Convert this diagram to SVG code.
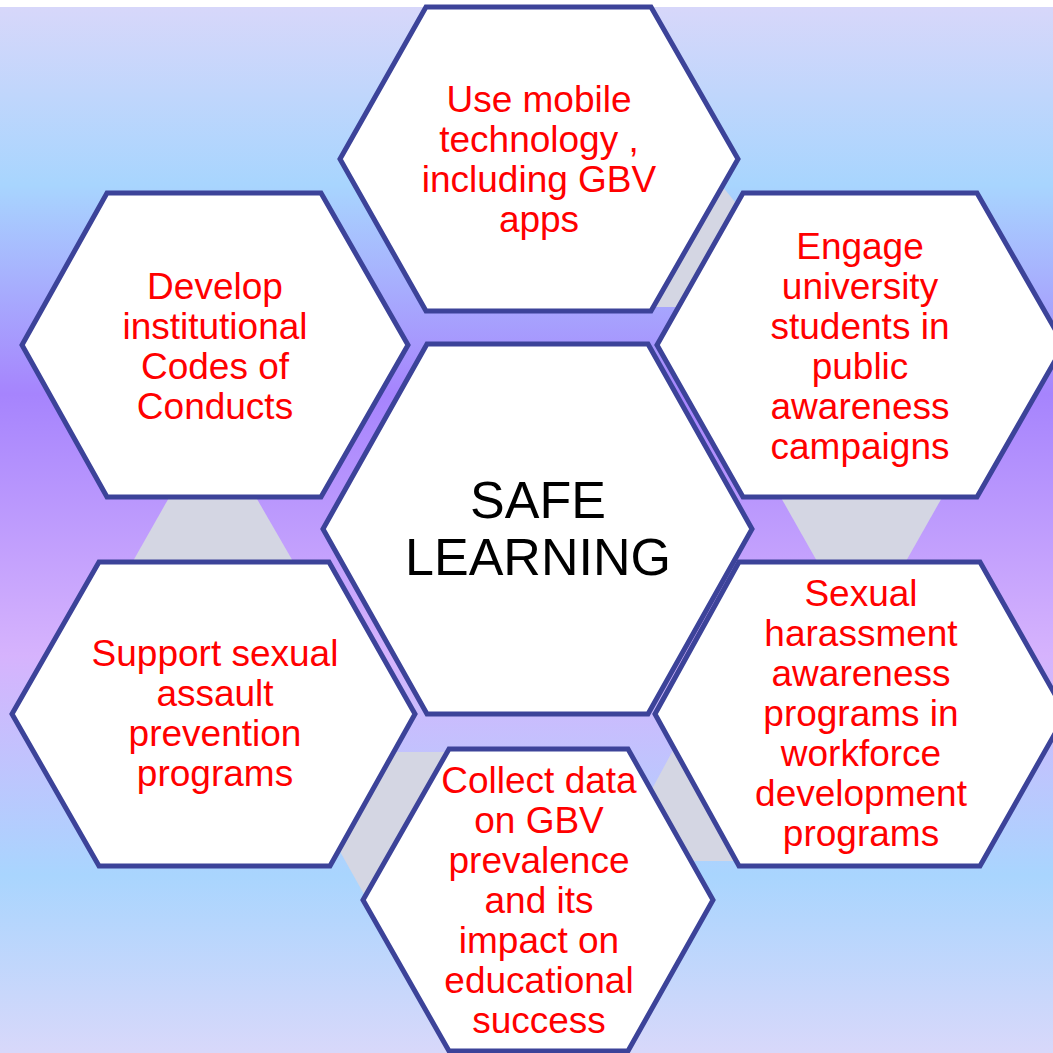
<svg xmlns="http://www.w3.org/2000/svg" width="1053" height="1053" viewBox="0 0 1053 1053">
  <defs>
    <linearGradient id="bg" x1="0" y1="0" x2="0" y2="1">
      <stop offset="0" stop-color="#d7d7fa"/>
      <stop offset="0.17" stop-color="#a8d5fe"/>
      <stop offset="0.37" stop-color="#a684fd"/>
      <stop offset="0.62" stop-color="#d6b3fd"/>
      <stop offset="0.83" stop-color="#a9d5fe"/>
      <stop offset="1" stop-color="#d8d8fa"/>
    </linearGradient>
    <style>
      .hex { fill: #ffffff; stroke: #3c4399; stroke-width: 5; stroke-linejoin: miter; }
      .gap { fill: #d4d6e3; }
      .lbl { font-family: "Liberation Sans", Arial, sans-serif; font-size: 37px; fill: #ff0000; text-anchor: middle; }
      .ctr { font-family: "Liberation Sans", Arial, sans-serif; font-size: 52px; fill: #000000; text-anchor: middle; }
    </style>
  </defs>
  <rect x="0" y="0" width="1053" height="1053" fill="#ffffff"/>
  <rect x="0" y="7" width="1053" height="1046" fill="url(#bg)"/>

  <g id="connectors">
    <polygon class="gap" points="650,180 722,186 740,208 760,250 760,307 640,307"/>
    <polygon class="gap" points="179,480 246,480 298,570 128,570"/>
    <polygon class="gap" points="771,480 952,480 901,570 822,570"/>
    <polygon class="gap" points="360,752 470,752 470,905 370,905 328,830"/>
    <polygon class="gap" points="684,730 760,730 760,861 620,861 620,800 646,800"/>
  </g>

  <g id="node-top">
    <polygon class="hex" points="426,7 651,7 738,159 651,311 426,311 340,159"/>
    <text class="lbl"><tspan x="539" y="112">Use mobile</tspan><tspan x="539" y="152">technology ,</tspan><tspan x="539" y="192">including GBV</tspan><tspan x="539" y="232">apps</tspan></text>
  </g>

  <g id="node-develop">
    <polygon class="hex" points="107,193 321,193 408,345 321,497 107,497 22,345"/>
    <text class="lbl"><tspan x="215" y="299">Develop</tspan><tspan x="215" y="339">institutional</tspan><tspan x="215" y="379">Codes of</tspan><tspan x="215" y="419">Conducts</tspan></text>
  </g>

  <g id="node-engage">
    <polygon class="hex" points="743,193 977,193 1064,345 977,497 743,497 657,345"/>
    <text class="lbl"><tspan x="860" y="259">Engage</tspan><tspan x="860" y="299">university</tspan><tspan x="860" y="339">students in</tspan><tspan x="860" y="379">public</tspan><tspan x="860" y="419">awareness</tspan><tspan x="860" y="459">campaigns</tspan></text>
  </g>

  <g id="node-center">
    <polygon class="hex" points="427,344 648,344 752,529 648,714 427,714 323,529"/>
    <text class="ctr"><tspan x="538" y="518">SAFE</tspan><tspan x="538" y="575">LEARNING</tspan></text>
  </g>

  <g id="node-support">
    <polygon class="hex" points="99,562 329,562 415,714 330,866 99,866 12,714"/>
    <text class="lbl"><tspan x="215" y="666">Support sexual</tspan><tspan x="215" y="706">assault</tspan><tspan x="215" y="746">prevention</tspan><tspan x="215" y="786">programs</tspan></text>
  </g>

  <g id="node-sexual">
    <polygon class="hex" points="739,562 980,562 1066,714 980,866 739,866 655,714"/>
    <text class="lbl"><tspan x="861" y="606">Sexual</tspan><tspan x="861" y="646">harassment</tspan><tspan x="861" y="686">awareness</tspan><tspan x="861" y="726">programs in</tspan><tspan x="861" y="766">workforce</tspan><tspan x="861" y="806">development</tspan><tspan x="861" y="846">programs</tspan></text>
  </g>

  <g id="node-collect">
    <polygon class="hex" points="449,749 628,749 713,900 628,1051 449,1051 363,900"/>
    <text class="lbl"><tspan x="539" y="793">Collect data</tspan><tspan x="539" y="833">on GBV</tspan><tspan x="539" y="873">prevalence</tspan><tspan x="539" y="913">and its</tspan><tspan x="539" y="953">impact on</tspan><tspan x="539" y="993">educational</tspan><tspan x="539" y="1033">success</tspan></text>
  </g>
</svg>
